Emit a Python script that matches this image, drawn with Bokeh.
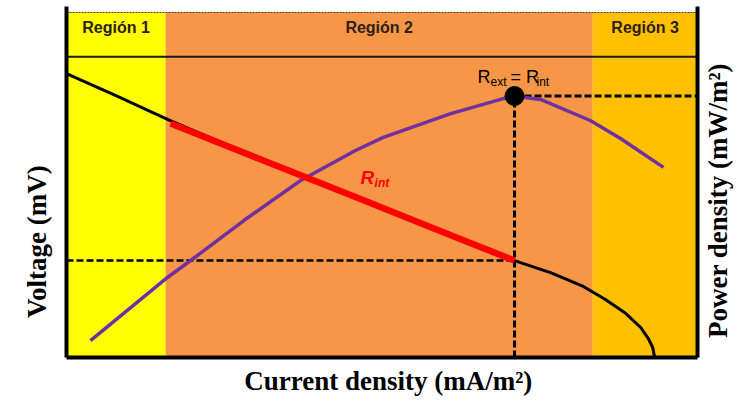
import math
from bokeh.plotting import figure
from bokeh.core.properties import value
from bokeh.embed import file_html
from bokeh.resources import INLINE

# ---------------- data (arbitrary units read from the schematic) ----------------
region_names = ["Región 1", "Región 2", "Región 3"]
region_left = [0.0, 15.7, 83.4]
region_right = [15.7, 83.4, 100.0]
region_colors = ["#FFFF00", "#F79646", "#FFC000"]

# polarization curve: voltage vs current density
volt_x = [0.0, 8.1, 16.0, 30.0, 45.0, 60.0, 71.0, 76.7, 81.9, 85.4, 88.6, 91.0, 92.2, 92.9, 93.2]
volt_y = [82.3, 75.7, 69.0, 58.0, 47.1, 36.1, 28.1, 24.6, 20.6, 16.8, 12.8, 8.7, 5.5, 2.9, 0.0]

# ohmic (R_int) linear section
rint_x = [16.5, 30.0, 45.0, 60.0, 71.0]
rint_y = [67.8, 58.0, 47.1, 36.1, 28.1]

# power density curve
power_x = [3.8, 16.0, 20.1, 28.1, 37.1, 45.8, 50.2, 60.9, 69.9, 71.0, 75.1, 83.0, 87.8, 94.6]
power_y = [4.9, 23.2, 28.7, 39.7, 51.3, 60.0, 63.8, 70.7, 75.4, 75.8, 74.8, 68.7, 63.5, 55.1]

# maximum power point (R_ext = R_int)
mpp_x = 71.0
mpp_power = 75.8
mpp_volt = 28.1

# axis titles
x_title = "Current density (mA/m²)"
y_title = "Voltage (mV)"
y2_title = "Power density (mW/m²)"

X_MIN, X_MAX = 0.0, 100.0
Y_MIN, Y_AXIS_TOP = 0.0, 101.74
BAND_TOP = 100.0
BAND_BOTTOM = 87.2
LABEL_Y = 95.7

# the plotting area fills the whole canvas; axis frame drawn at x=0, x=100, y=0
p = figure(width=740, height=403, x_range=(-10.46, 106.81), y_range=(-13.33, 103.48),
           output_backend="svg", toolbar_location=None,
           min_border_left=0, min_border_right=0, min_border_top=0, min_border_bottom=0,
           background_fill_color="white", border_fill_color="white", outline_line_color=None)
p.grid.visible = False
p.xaxis.visible = False
p.yaxis.visible = False

# regions
p.quad(left=region_left, right=region_right, bottom=Y_MIN, top=BAND_TOP,
       fill_color=region_colors, line_color=None)
p.line([X_MIN, X_MAX], [BAND_TOP, BAND_TOP], line_color="#4d3319", line_width=1, line_dash="2 1")
p.line([X_MIN, X_MAX], [BAND_BOTTOM, BAND_BOTTOM], line_color="#1a1a1a", line_width=2)

centers = [(l + r) / 2 for l, r in zip(region_left, region_right)]
p.text(x=centers, y=[LABEL_Y] * 3, text=region_names, text_align="center", text_baseline="middle",
       text_font=value("Liberation Sans"), text_font_style="bold", text_font_size="16px",
       text_color="#2b2118")

# guide lines
p.line([X_MIN, mpp_x], [mpp_volt, mpp_volt], line_color="black", line_width=2.5, line_dash="7 3")
p.line([mpp_x, mpp_x], [Y_MIN, mpp_power], line_color="black", line_width=3, line_dash="7 3")
p.line([mpp_x, X_MAX], [mpp_power, mpp_power], line_color="black", line_width=3, line_dash="7 3")

# curves
p.line(power_x, power_y, line_color="#7030A0", line_width=3.5, line_join="round")
p.line(volt_x, volt_y, line_color="black", line_width=3, line_join="round")
p.line(rint_x, rint_y, line_color="#FF0000", line_width=6.5, line_join="round")
p.scatter([mpp_x], [mpp_power], size=19, fill_color="black", line_color="black")

# axis frame lines (left voltage axis, right power axis, bottom current axis)
p.segment(x0=[X_MIN, X_MAX, X_MIN], y0=[Y_MIN, Y_MIN, Y_MIN],
          x1=[X_MIN, X_MAX, X_MAX], y1=[Y_AXIS_TOP, Y_AXIS_TOP, Y_MIN],
          line_color="black", line_width=4)

# axis titles
title_kw = dict(text_font=value("Liberation Serif"), text_font_style="bold",
                text_font_size="27px", text_color="black",
                text_align="center", text_baseline="middle")
p.text(x=[-4.6], y=[33.6], text=[y_title], angle=math.pi / 2, **title_kw)
p.text(x=[103.2], y=[45.5], text=[y2_title], angle=math.pi / 2, **title_kw)
p.text(x=[51.0], y=[-6.7], text=[x_title], **title_kw)

# R_ext = R_int annotation
base_y = 81.2
p.text(x=[mpp_x] * 4, y=[base_y] * 4,
       text=["R", "ext", "= R", "int"],
       x_offset=[-37, -24, -4, 22], y_offset=[0, 5, 0, 5],
       text_font_size=["18px", "12px", "18px", "12px"],
       text_font=value("Liberation Sans"), text_align="left", text_baseline="alphabetic",
       text_color="black")

# R_int label
p.text(x=[46.6, 46.6], y=[52.2, 52.2], text=["R", "int"], x_offset=[0, 14], y_offset=[0, 6],
       text_font_size=["19px", "12px"], text_font=value("Liberation Sans"),
       text_font_style="bold italic", text_align="left", text_baseline="alphabetic",
       text_color="#FF0000")

open("out.html", "w").write(file_html(p, INLINE))
